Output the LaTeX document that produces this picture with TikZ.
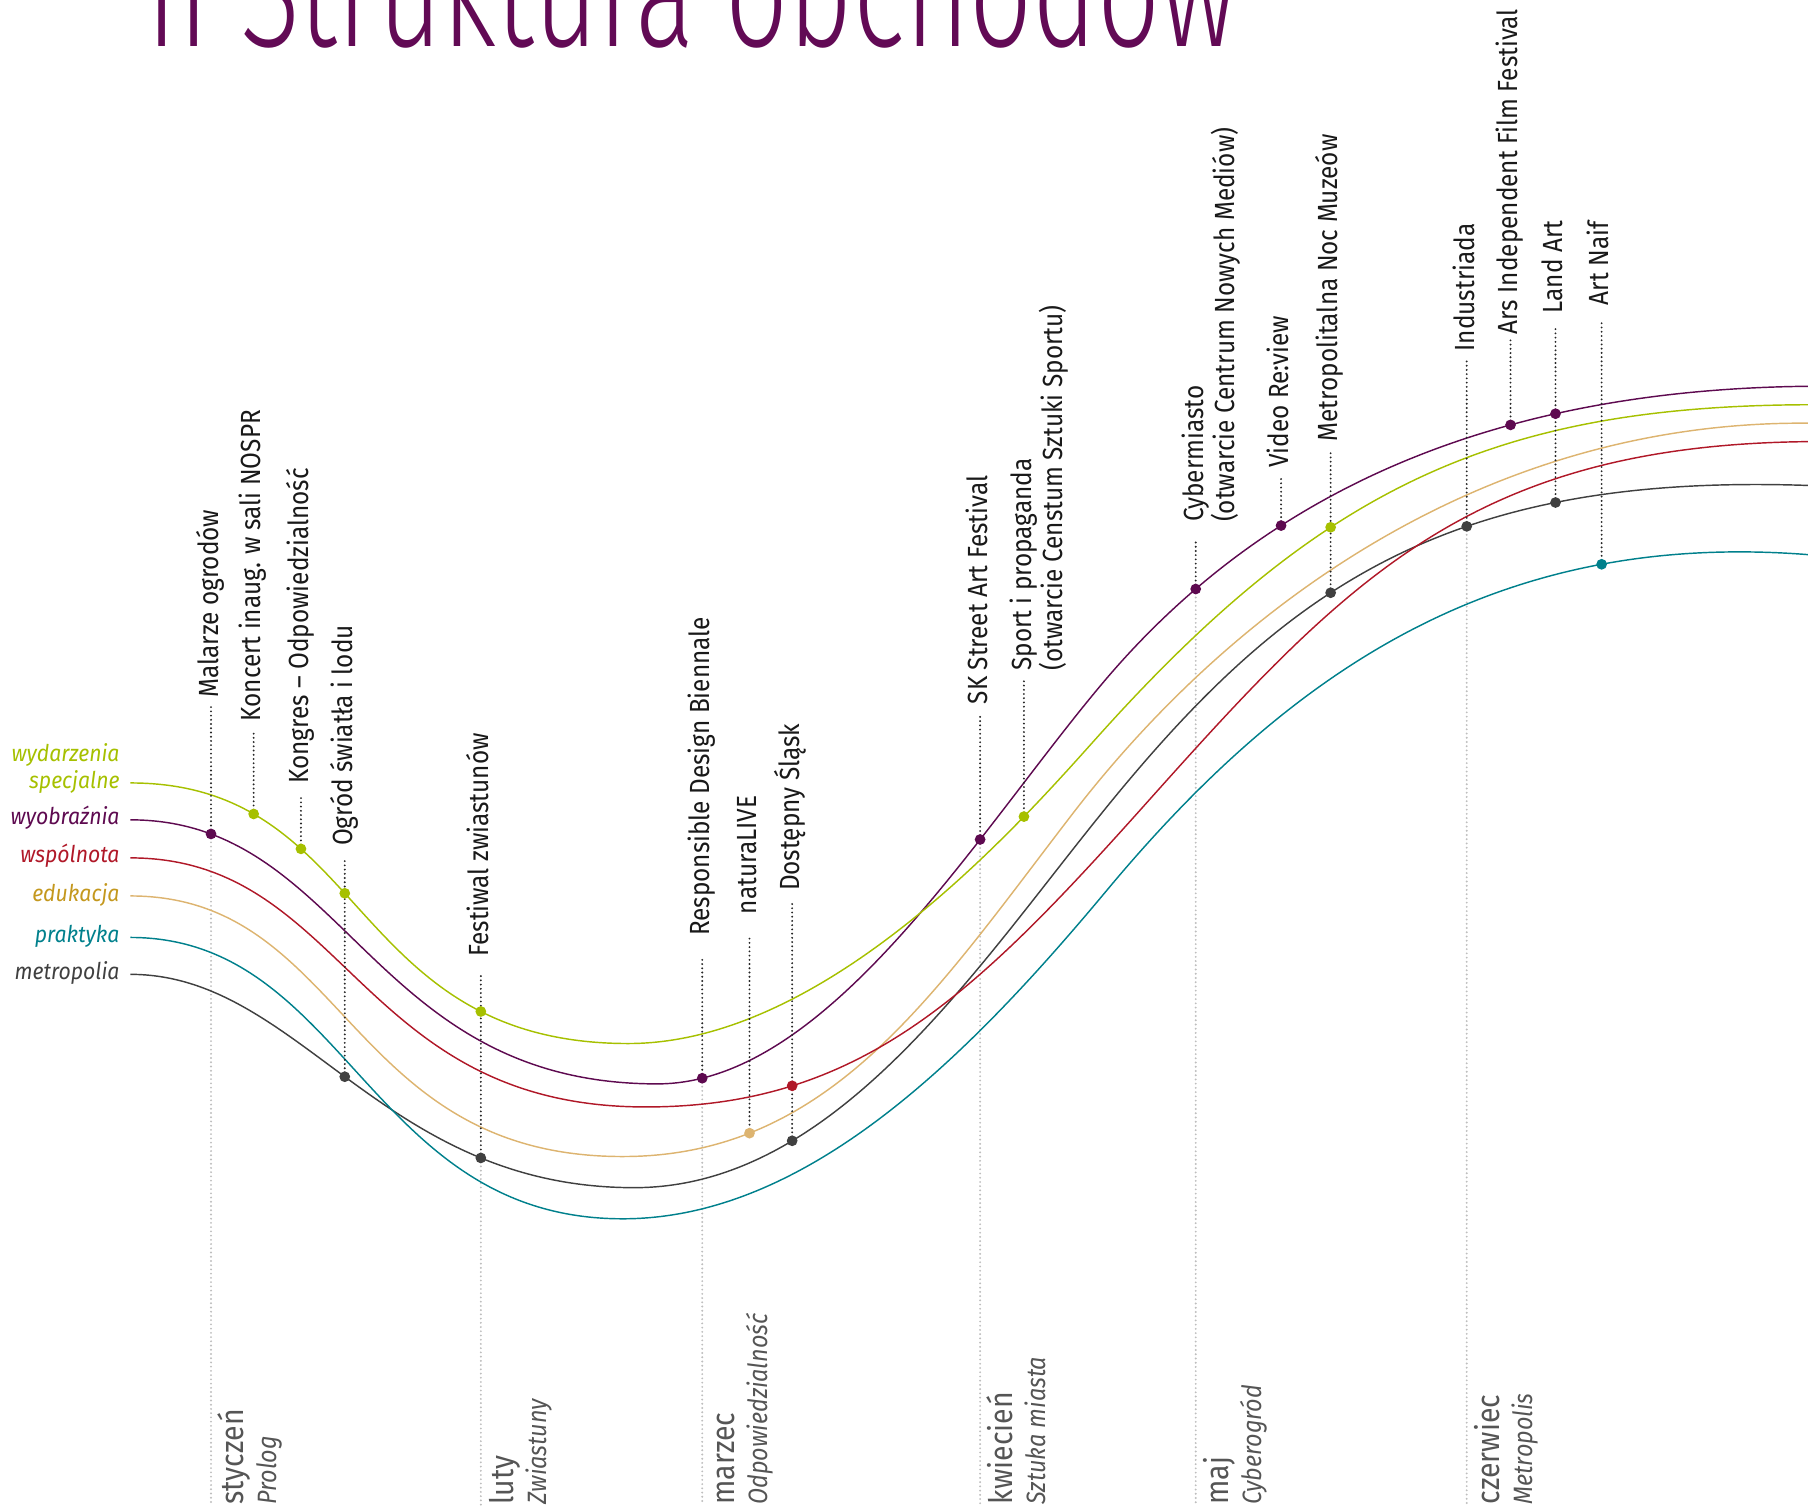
\documentclass[tikz,border=0pt]{standalone}
\usepackage{fontspec}
\setmainfont{Fira Sans}[FakeStretch=0.88]
\newfontfamily\titlefont{Fira Sans Light}[FakeStretch=0.685]
\newfontfamily\legendfont{Fira Sans}[FakeStretch=0.92]
\usetikzlibrary{calc,intersections}

\definecolor{lim}{RGB}{166,192,0}
\definecolor{wyo}{RGB}{94,10,80}
\definecolor{wsp}{RGB}{176,24,40}
\definecolor{edu}{RGB}{221,180,112}
\definecolor{eduText}{RGB}{196,152,30}
\definecolor{pra}{RGB}{0,128,140}
\definecolor{met}{RGB}{64,64,64}
\definecolor{titleColor}{RGB}{98,10,85}
\definecolor{monthGrey}{RGB}{85,85,85}
\definecolor{lineGrey}{RGB}{190,190,190}

\pgfdeclarelayer{bg}
\pgfsetlayers{bg,main}

\tikzset{
  curve/.style={line width=0.75pt},
  evlabel/.style={rotate=90, anchor=west, inner sep=0pt, text=black!90,
    font=\fontsize{14.4}{16}\selectfont, text height=10.8pt, text depth=3.2pt},
  evline/.style={draw=black!85, line width=1.1pt, line cap=round, dash pattern=on 0pt off 2.2pt},
  monthline/.style={draw=lineGrey, line width=1.1pt, line cap=round, dash pattern=on 0pt off 2.2pt},
  monthlbl/.style={rotate=90, anchor=base west, inner sep=0pt, text=monthGrey,
    font=\fontsize{16.8}{18}\selectfont},
  sublbl/.style={rotate=90, anchor=base west, inner sep=0pt, text=monthGrey,
    font=\fontsize{13.8}{15}\selectfont\itshape},
  legend/.style={anchor=mid east, inner sep=0pt, font=\legendfont\fontsize{12}{14}\selectfont\itshape},
}

% dots: name/curve/x
\def\dotlist{malarzeA/wyo/183, koncertA/lim/220, kongresA/lim/261, ogrodA/lim/299, ogrodB/met/299,
  festiwalA/lim/417, festiwalB/met/417, rdbA/wyo/609, naturaA/edu/650, dostepnyA/wsp/687,
  dostepnyB/met/687, streetA/wyo/850, sportA/lim/888, cyberA/wyo/1037, videoA/wyo/1111,
  muzeaA/lim/1154, muzeaB/met/1154, industriadaA/met/1272, arsA/wyo/1310, landartA/wyo/1349,
  landartB/met/1349, naifA/pra/1389}

\begin{document}
\begin{tikzpicture}[x=0.6pt,y=-0.6pt]
\useasboundingbox (0,0) rectangle (1568,1310);
\clip (0,0) rectangle (1568,1310);

% title
\node[anchor=base west, inner sep=0pt, text=titleColor, font=\titlefont\fontsize{84}{90}\selectfont]
  (title) at (127,40) {II Struktura obchodów};

% curve starts
\coordinate (limS) at (113,679);
\coordinate (wyoS) at (113,711);
\coordinate (wspS) at (113,744);
\coordinate (eduS) at (113,777);
\coordinate (praS) at (113,813);
\coordinate (metS) at (113,845);

% curves: down to the minimum, up through the turning point, out to the right edge
\draw[curve, met, name path=met] (metS) .. controls (260,845) and (330,1030) .. (550,1030)
  .. controls (720,1030) and (840,849) .. (950,712) .. controls (1110,512) and (1250,410) .. (1568,421);
\draw[curve, pra, name path=pra] (praS) .. controls (300,813) and (320,1057) .. (540,1057)
  .. controls (700,1057) and (840,916) .. (960,772) .. controls (1120,580) and (1300,460) .. (1568,481);
\draw[curve, edu, name path=edu] (eduS) .. controls (300,777) and (300,1003) .. (540,1003)
  .. controls (720,1003) and (810,862) .. (930,706) .. controls (1070,524) and (1290,365) .. (1568,367);
\draw[curve, wsp, name path=wsp] (wspS) .. controls (300,744) and (310,960) .. (560,960)
  .. controls (750,960) and (850,858) .. (1000,690) .. controls (1170,500) and (1280,386) .. (1568,383);
\draw[curve, wyo, name path=wyo] (wyoS) .. controls (300,711) and (320,940) .. (570,940)
  .. controls (720,940) and (850,717) .. (960,588) .. controls (1090,436) and (1280,338) .. (1568,335);
\draw[curve, lim, name path=lim] (limS) .. controls (320,679) and (300,905) .. (545,905)
  .. controls (725,905) and (900,696) .. (960,630) .. controls (1150,421) and (1300,352) .. (1568,351);

% legend
\node[legend, text=lim] (legLim) at ($(limS)+(-9,0)$) {specjalne};
\node[legend, text=lim] at ($(legLim.mid east)+(0,-23)$) {wydarzenia};
\node[legend, text=wyo] at ($(wyoS)+(-9,0)$) {wyobraźnia};
\node[legend, text=wsp] at ($(wspS)+(-9,0)$) {wspólnota};
\node[legend, text=eduText] at ($(eduS)+(-9,0)$) {edukacja};
\node[legend, text=pra] at ($(praS)+(-9,0)$) {praktyka};
\node[legend, text=met] at ($(metS)+(-9,0)$) {metropolia};

% dots on the curves
\foreach \dn/\cv/\xx in \dotlist {
  \path[name path=vcut] (\xx,0) -- (\xx,1310);
  \path[name intersections={of=vcut and \cv, by=\dn}];
}

% event labels
\foreach \ev/\xx/\yb/\txt in {
  malarze/183/605/Malarze ogrodów,
  koncert/220/626/Koncert inaug. w sali NOSPR,
  kongres/261/680/Kongres – Odpowiedzialność,
  ogrod/299/734/Ogród światła i lodu,
  festiwal/417/830/Festiwal zwiastunów,
  rdb/609/812/Responsible Design Biennale,
  natura/650/793/naturaLIVE,
  dostepny/687/773/Dostępny Śląsk,
  street/850/611/SK Street Art Festival,
  sport/888/582/Sport i propaganda,
  cyber/1037/453/Cybermiasto,
  video/1111/406/Video Re:view,
  muzea/1154/383/Metropolitalna Noc Muzeów,
  industriada/1272/305/Industriada,
  ars/1310/290/Ars Independent Film Festival,
  landart/1349/272/Land Art,
  naif/1389/265/Art Naif}
  \node[evlabel] (\ev) at (\xx,\yb) {\txt};
\node[evlabel, anchor=north west] at ($(sport.south west)+(3,0)$) {(otwarcie Censtum Sztuki Sportu)};
\node[evlabel, anchor=north west] at ($(cyber.south west)+(3,0)$) {(otwarcie Centrum Nowych Mediów)};

% dotted leaders from the lowest dot up to the label
\foreach \ev/\lo/\gp in {malarze/malarzeA/6, koncert/koncertA/7, kongres/kongresA/10, ogrod/ogrodB/10,
  festiwal/festiwalB/15, rdb/rdbA/19, natura/naturaA/19, dostepny/dostepnyB/10, street/streetA/10,
  sport/sportA/7, cyber/cyberA/14, video/videoA/6, muzea/muzeaB/7, industriada/industriadaA/8,
  ars/arsA/5, landart/landartB/13, naif/naifA/13}
  \draw[evline] (\lo) -- ($(\ev.west)+(0,\gp)$);

\foreach \dn/\cv/\xx in \dotlist
  \fill[\cv] (\dn) circle[radius=2.8pt];

% months
\coordinate (base) at (0,1305);
\begin{pgfonlayer}{bg}
\foreach \lo/\mo/\sub in {malarzeA/styczeń/Prolog, festiwalB/luty/Zwiastuny, rdbA/marzec/Odpowiedzialność,
  streetA/kwiecień/Sztuka miasta, cyberA/maj/Cyberogród, industriadaA/czerwiec/Metropolis}{
  \draw[monthline] (\lo) -- (\lo |- base);
  \node[monthlbl] (m\lo) at ($(\lo |- base)+(28,0)$) {\mo};
  \node[sublbl] at ($(m\lo.base west)+(29,0)$) {\sub};
}
\end{pgfonlayer}
\end{tikzpicture}
\end{document}
